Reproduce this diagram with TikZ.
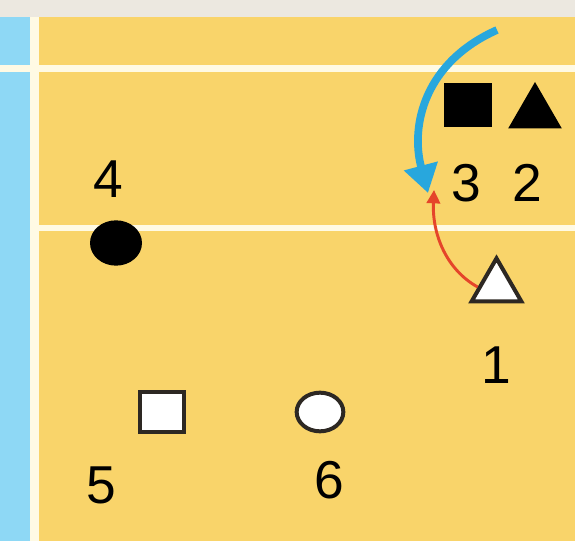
\documentclass[tikz,border=0pt]{standalone}
\usepackage{fontspec}
\setmainfont{Liberation Sans}
\usetikzlibrary{shapes.geometric,arrows.meta}
\definecolor{bgtop}{RGB}{236,232,224}
\definecolor{fieldyel}{RGB}{249,212,106}
\definecolor{sideblue}{RGB}{142,216,245}
\definecolor{linewhite}{RGB}{255,250,228}
\definecolor{arrowblue}{RGB}{40,167,221}
\definecolor{arrowred}{RGB}{229,69,42}
\definecolor{edgegray}{RGB}{45,40,35}
\tikzset{
  blk/.style={fill=black,draw=none,inner sep=0pt},
  wht/.style={fill=white,draw=edgegray,line width=3pt,inner sep=0pt},
  sq/.style={rectangle,minimum width=36pt,minimum height=33pt},
  ell/.style={ellipse,minimum width=38pt,minimum height=33pt},
  tri/.style={regular polygon,regular polygon sides=3,minimum size=46.5pt},
  num/.style={font=\fontsize{40}{47}\selectfont,inner sep=0pt,text=black},
  bluearrow/.style={draw=arrowblue,line width=5.8pt,-{Triangle[length=21pt,width=25pt]}},
  redarrow/.style={draw=arrowred,line width=2.2pt,-{Triangle[length=10pt,width=10pt]}}
}
\begin{document}
\begin{tikzpicture}[x=0.75pt,y=-0.75pt]
\useasboundingbox (0,0) rectangle (575,541);
% background
\fill[bgtop] (0,0) rectangle (575,17);
\fill[fieldyel] (38,17) rectangle (575,541);
\fill[sideblue] (0,17) rectangle (30,541);
\fill[linewhite] (30,17) rectangle (39,541);
\fill[linewhite] (0,65.5) rectangle (575,72.5);
\fill[linewhite] (39,225) rectangle (575,231);
% players
\node[blk,sq] (p3) at (468,105) {};
\node[blk,tri] (p2) at (535,113) {};
\node[wht,tri,minimum size=43pt] (p1) at (496.5,287) {};
\node[blk,ell,minimum width=39pt,minimum height=34pt] (p4) at (116,243) {};
\node[wht,sq,minimum width=33pt,minimum height=30pt] (p5) at (162,412) {};
\node[wht,ell,minimum width=35pt,minimum height=29pt] (p6) at (320,412) {};
% labels
\node[num] (l3) at (466,183) {3};
\node[num] (l2) at (527,183) {2};
\node[num] (l1) at (496,365) {1};
\node[num] (l4) at (108,179) {4};
\node[num] (l5) at (101,485) {5};
\node[num] (l6) at (329,480) {6};
% arrows
\coordinate (bstart) at (497,30);
\coordinate (bend) at (428,193);
\draw[bluearrow] (bstart) .. controls (425,62) and (410,125) .. (bend);
\coordinate (rend) at (434,190);
\draw[redarrow] (p1.west) .. controls (447,270) and (432,235) .. (rend);
\end{tikzpicture}
\end{document}
